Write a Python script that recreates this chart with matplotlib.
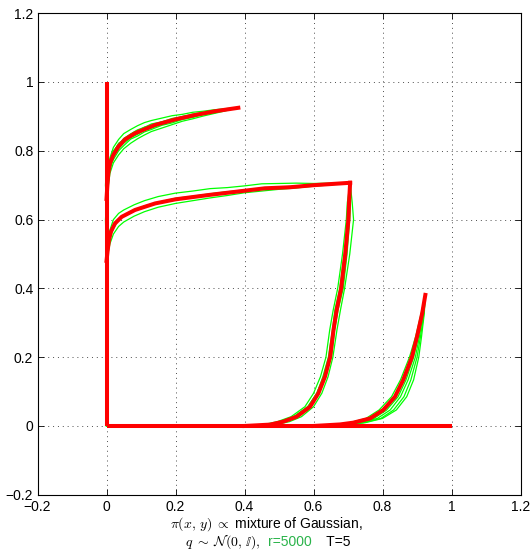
import numpy as np
import matplotlib
matplotlib.use('Agg')
import matplotlib.pyplot as plt

plt.rcParams['font.family'] = ['Liberation Sans', 'DejaVu Sans']
plt.rcParams['mathtext.fontset'] = 'cm'

# red (mean) paths
red_vert_x = [0.0, 0.0]
red_vert_y = [0.0, 1.0]
red_horz_x = [0.0, 1.0]
red_horz_y = [0.0, 0.0]

red_up_x = [0.0, 0.0023, 0.0053, 0.0101, 0.0198, 0.0343, 0.0536, 0.0826, 0.1406, 0.2006, 0.2565, 0.3145, 0.382]
red_up_y = [0.66, 0.696, 0.735, 0.764, 0.788, 0.812, 0.833, 0.851, 0.875, 0.8915, 0.904, 0.915, 0.925]

red_mid_x = [0.0, 0.0035, 0.0072, 0.013, 0.0246, 0.044, 0.0826, 0.141, 0.2006, 0.30, 0.401, 0.459, 0.532, 0.6, 0.706]
red_mid_y = [0.48, 0.512, 0.541, 0.565, 0.589, 0.608, 0.628, 0.647, 0.659, 0.672, 0.684, 0.691, 0.694, 0.700, 0.707]

red_dn_y = [0.707, 0.65, 0.6, 0.5, 0.4, 0.337, 0.28, 0.2, 0.143, 0.095, 0.056, 0.027, 0.0125, 0.004, 0.0]
red_dn_x = [0.706, 0.703, 0.701, 0.692, 0.680, 0.667, 0.658, 0.648, 0.633, 0.614, 0.59, 0.551, 0.512, 0.474, 0.40]

red_lr_y = [0.381, 0.328, 0.26, 0.2, 0.134, 0.085, 0.0465, 0.022, 0.0096, 0.0045, 0.0]
red_lr_x = [0.924, 0.915, 0.90, 0.885, 0.860, 0.836, 0.802, 0.764, 0.715, 0.677, 0.60]

# green (individual runs)
grn_up_x = [0.0, 0.004, 0.01, 0.02, 0.035, 0.05, 0.07, 0.09, 0.11, 0.13, 0.16, 0.19, 0.22, 0.25, 0.28, 0.31, 0.34, 0.36, 0.38]
grn_up_y = [
    [0.64, 0.73, 0.78, 0.81, 0.833, 0.85, 0.862, 0.873, 0.882, 0.888, 0.895, 0.902, 0.906, 0.912, 0.915, 0.919, 0.922, 0.924, 0.925],
    [0.62, 0.69, 0.735, 0.765, 0.788, 0.806, 0.822, 0.835, 0.846, 0.856, 0.866, 0.876, 0.886, 0.893, 0.901, 0.908, 0.915, 0.92, 0.925],
    [0.66, 0.725, 0.77, 0.80, 0.818, 0.836, 0.849, 0.861, 0.868, 0.878, 0.884, 0.894, 0.899, 0.907, 0.911, 0.917, 0.920, 0.923, 0.925],
    [0.65, 0.705, 0.75, 0.775, 0.80, 0.815, 0.834, 0.843, 0.855, 0.862, 0.874, 0.881, 0.891, 0.897, 0.906, 0.91, 0.917, 0.921, 0.925],
    [0.67, 0.74, 0.775, 0.795, 0.822, 0.832, 0.848, 0.858, 0.869, 0.874, 0.884, 0.89, 0.9, 0.904, 0.91, 0.915, 0.918, 0.923, 0.925],
    [0.63, 0.70, 0.745, 0.785, 0.812, 0.826, 0.841, 0.856, 0.862, 0.871, 0.879, 0.885, 0.894, 0.901, 0.905, 0.912, 0.916, 0.922, 0.925],
    [0.66, 0.72, 0.76, 0.79, 0.806, 0.822, 0.838, 0.848, 0.86, 0.866, 0.877, 0.886, 0.893, 0.899, 0.907, 0.913, 0.919, 0.921, 0.925],
]

grn_mid_x = [0.0, 0.004, 0.01, 0.02, 0.035, 0.05, 0.08, 0.11, 0.15, 0.2, 0.25, 0.3, 0.35, 0.4, 0.45, 0.5, 0.55, 0.6, 0.65, 0.706]
grn_mid_y = [
    [0.5, 0.54, 0.57, 0.6, 0.618, 0.628, 0.643, 0.655, 0.667, 0.677, 0.683, 0.69, 0.693, 0.698, 0.704, 0.705, 0.706, 0.705, 0.706, 0.707],
    [0.46, 0.5, 0.53, 0.558, 0.58, 0.593, 0.61, 0.623, 0.636, 0.647, 0.655, 0.663, 0.67, 0.678, 0.683, 0.688, 0.692, 0.697, 0.701, 0.707],
    [0.49, 0.52, 0.548, 0.575, 0.598, 0.61, 0.625, 0.64, 0.65, 0.662, 0.668, 0.675, 0.681, 0.686, 0.69, 0.694, 0.698, 0.70, 0.704, 0.707],
]

grn_dn_y = [0.707, 0.65, 0.6, 0.5, 0.4, 0.337, 0.28, 0.2, 0.143, 0.095, 0.056, 0.027, 0.0125, 0.004, 0.0]
grn_dn_x = [
    [0.706, 0.712, 0.716, 0.705, 0.69, 0.678, 0.668, 0.656, 0.642, 0.624, 0.60, 0.565, 0.53, 0.49, 0.42],
    [0.706, 0.698, 0.695, 0.684, 0.67, 0.657, 0.647, 0.636, 0.62, 0.6, 0.575, 0.535, 0.495, 0.455, 0.38],
    [0.706, 0.707, 0.705, 0.697, 0.686, 0.671, 0.661, 0.652, 0.63, 0.609, 0.584, 0.545, 0.505, 0.465, 0.39],
    [0.706, 0.701, 0.703, 0.689, 0.676, 0.662, 0.655, 0.643, 0.627, 0.61, 0.583, 0.542, 0.50, 0.47, 0.41],
]

grn_lr_y = [0.381, 0.328, 0.26, 0.2, 0.134, 0.085, 0.0465, 0.022, 0.0096, 0.0045, 0.0]
grn_lr_x = [
    [0.924, 0.918, 0.907, 0.895, 0.874, 0.852, 0.822, 0.785, 0.735, 0.69, 0.62],
    [0.924, 0.92, 0.91, 0.9, 0.882, 0.862, 0.832, 0.795, 0.745, 0.70, 0.63],
    [0.924, 0.912, 0.896, 0.878, 0.852, 0.826, 0.79, 0.752, 0.705, 0.665, 0.59],
    [0.924, 0.921, 0.913, 0.905, 0.89, 0.87, 0.84, 0.80, 0.75, 0.705, 0.64],
    [0.924, 0.916, 0.903, 0.89, 0.868, 0.845, 0.812, 0.775, 0.725, 0.685, 0.61],
]

grn_bot_x = [0.0, 0.3, 0.4, 0.5, 0.6, 0.7, 0.8, 0.9, 0.98]
grn_bot_y = [
    [0.0, 0.0, 0.003, -0.002, 0.002, -0.003, 0.002, -0.002, 0.001],
    [0.0, 0.0, -0.002, 0.003, -0.003, 0.002, -0.002, 0.003, -0.001],
]
grn_vert_y = [0.0, 0.2, 0.4, 0.6, 0.7, 0.8, 0.9, 0.98]
grn_vert_x = [
    [0.0, 0.002, -0.002, 0.003, -0.003, 0.002, 0.001, 0.0],
    [0.0, -0.002, 0.002, -0.003, 0.002, -0.002, -0.001, 0.0],
]

ticks = [-0.2, 0, 0.2, 0.4, 0.6, 0.8, 1, 1.2]
tick_labels = ['\u22120.2', '0', '0.2', '0.4', '0.6', '0.8', '1', '1.2']

fig = plt.figure(figsize=(5.32, 5.5), dpi=100)
ax = fig.add_axes([0.0705, 0.1004, 0.908, 0.8756])

gc = (0.0, 1.0, 0.0)
glw = 0.9
for ys in grn_up_y:
    ax.plot(grn_up_x, ys, color=gc, lw=glw)
for ys in grn_mid_y:
    ax.plot(grn_mid_x, ys, color=gc, lw=glw)
for xs in grn_dn_x:
    ax.plot(xs, grn_dn_y, color=gc, lw=glw)
for xs in grn_lr_x:
    ax.plot(xs, grn_lr_y, color=gc, lw=glw)
for ys in grn_bot_y:
    ax.plot(grn_bot_x, ys, color=gc, lw=glw)
for xs in grn_vert_x:
    ax.plot(xs, grn_vert_y, color=gc, lw=glw)

rc = (1.0, 0.0, 0.0)
rlw = 2.9
ax.plot(red_vert_x, red_vert_y, color=rc, lw=rlw, solid_capstyle='butt')
ax.plot(red_horz_x, red_horz_y, color=rc, lw=rlw, solid_capstyle='butt')
ax.plot(red_up_x, red_up_y, color=rc, lw=rlw)
ax.plot(red_mid_x, red_mid_y, color=rc, lw=rlw)
ax.plot(red_dn_x, red_dn_y, color=rc, lw=rlw)
ax.plot(red_lr_x, red_lr_y, color=rc, lw=rlw)

ax.set_xlim(-0.2, 1.2)
ax.set_ylim(-0.2, 1.2)
ax.set_xticks(ticks)
ax.set_yticks(ticks)
ax.set_xticklabels(tick_labels)
ax.set_yticklabels(tick_labels)
ax.tick_params(direction='in', top=True, right=True, length=4, width=0.6,
               labelsize=10, pad=3)
ax.tick_params(axis='x', pad=4)
ax.grid(True, linestyle=(0, (1, 4)), color='0.3', lw=0.7)
for s in ax.spines.values():
    s.set_linewidth(0.8)

fig.text(266 / 532, 1 - 524 / 550, r'$\pi(x,\,y)\;\propto$ mixture of Gaussian,',
         ha='center', va='center', fontsize=10)

# second line, mixed colours
renderer = fig.canvas.get_renderer()
parts = [(r'$q\;\sim\;\mathcal{N}(0,\,\mathbb{I}),$  ', 'black'),
         ('r=5000', '#2ab34a'),
         ('    T=5', 'black')]
texts = []
for s, c in parts:
    t = fig.text(0, 1 - 542 / 550, s, ha='left', va='center', fontsize=10, color=c)
    texts.append(t)
widths = [t.get_window_extent(renderer).width for t in texts]
x0 = 268 - sum(widths) / 2
for t, w in zip(texts, widths):
    t.set_x(x0 / 532)
    x0 += w

fig.savefig('out.png', dpi=100)
